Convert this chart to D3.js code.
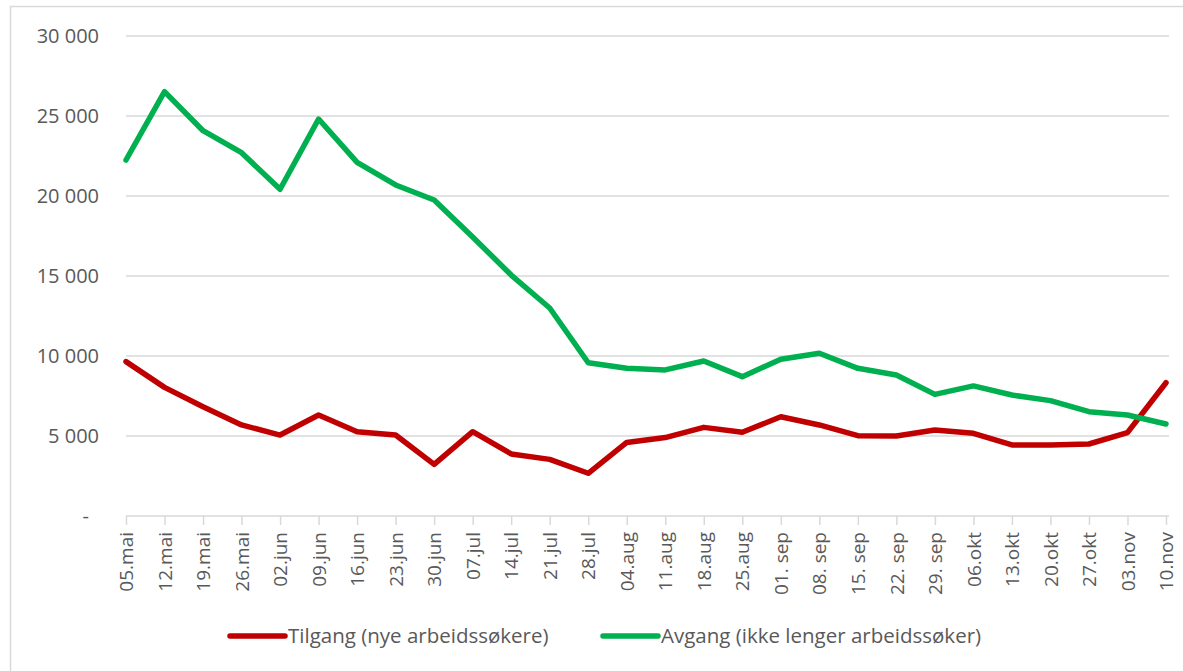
<!DOCTYPE html>
<html>
<head>
<meta charset="utf-8">
<title>Tilgang og avgang</title>
<script src="https://d3js.org/d3.v7.min.js"></script>
<style>
    body { margin: 0; background: #fff; }
    text { font-family: "Open Sans", "Noto Sans", sans-serif; fill: #595959; }
</style>
</head>
<body>
<script>

    // data
    var weeks = ["05.mai", "12.mai", "19.mai", "26.mai", "02.jun", "09.jun", "16.jun", "23.jun",
        "30.jun", "07.jul", "14.jul", "21.jul", "28.jul", "04.aug", "11.aug", "18.aug", "25.aug",
        "01. sep", "08. sep", "15. sep", "22. sep", "29. sep", "06.okt", "13.okt", "20.okt",
        "27.okt", "03.nov", "10.nov"];

    var tilgang = [9650, 8040, 6830, 5690, 5060, 6310, 5270, 5060, 3230, 5270, 3880, 3540,
        2670, 4600, 4900, 5540, 5230, 6200, 5690, 5020, 5000, 5380, 5170, 4440, 4440, 4500,
        5210, 8330];

    var avgang = [22250, 26520, 24080, 22710, 20420, 24810, 22100, 20690, 19750, 17440, 15060,
        13000, 9580, 9230, 9130, 9690, 8710, 9800, 10170, 9230, 8810, 7600, 8130, 7560, 7210,
        6520, 6310, 5750];

    var yTicks = [0, 5000, 10000, 15000, 20000, 25000, 30000];

    var seriesNames = ["Tilgang (nye arbeidssøkere)", "Avgang (ikke lenger arbeidssøker)"];
    var seriesColors = ["#c00000", "#00b050"];

    var width = 1183,
        height = 671;

    var svg = d3.select("body")
        .append("svg")
        .attr("width", width)
        .attr("height", height);

    // chart border
    svg.append("rect")
        .attr("x", 10.5)
        .attr("y", 6.5)
        .attr("width", 1190)
        .attr("height", 700)
        .attr("fill", "none")
        .attr("stroke", "#d9d9d9")
        .attr("stroke-width", 1.5);

    var x = d3.scalePoint()
        .domain(weeks)
        .range([126, 1166]);

    var y = d3.scaleLinear()
        .domain([0, 30000])
        .range([516, 36]);

    // gridlines
    svg.append("g")
        .selectAll("line")
        .data(yTicks.slice(1))
        .enter()
        .append("line")
        .attr("x1", 126)
        .attr("x2", 1169)
        .attr("y1", function (d) { return y(d); })
        .attr("y2", function (d) { return y(d); })
        .attr("stroke", "#d9d9d9")
        .attr("stroke-width", 1.5);

    // y labels
    var fmt = function (d) {
        if (d === 0) return "-";
        return d3.format(",")(d).replace(",", " ");
    };
    svg.append("g")
        .selectAll("text")
        .data(yTicks)
        .enter()
        .append("text")
        .attr("x", function (d) { return d === 0 ? 89 : 99; })
        .attr("y", function (d) { return y(d); })
        .attr("dy", "0.35em")
        .attr("text-anchor", "end")
        .style("font-size", "20px")
        .text(fmt);

    // x axis
    var xAxis = svg.append("g")
        .attr("transform", "translate(0," + y(0) + ")")
        .call(d3.axisBottom(x).tickSize(9).tickSizeOuter(0).tickPadding(0));
    xAxis.select(".domain").attr("stroke", "#d9d9d9").attr("stroke-width", 1.5)
        .attr("d", "M126,0H1169");
    xAxis.selectAll(".tick line").attr("stroke", "#d9d9d9").attr("stroke-width", 1.5);
    xAxis.selectAll(".tick text")
        .attr("transform", "rotate(-90)")
        .attr("x", -16)
        .attr("y", 0)
        .attr("dy", "0.35em")
        .attr("text-anchor", "end")
        .style("font-size", "19px")
        .style("fill", "#595959")
        .style("font-family", "\"Open Sans\", sans-serif");

    // lines
    var line = d3.line()
        .x(function (d, i) { return x(weeks[i]); })
        .y(function (d) { return y(d); });

    [tilgang, avgang].forEach(function (s, i) {
        svg.append("path")
            .datum(s)
            .attr("fill", "none")
            .attr("stroke", seriesColors[i])
            .attr("stroke-width", 5.5)
            .attr("stroke-linejoin", "round")
            .attr("stroke-linecap", "round")
            .attr("d", line);
    });

    // legend
    var legendX = [230, 603];
    var legend = svg.append("g");
    seriesNames.forEach(function (n, i) {
        legend.append("line")
            .attr("x1", legendX[i])
            .attr("x2", legendX[i] + 55)
            .attr("y1", 636)
            .attr("y2", 636)
            .attr("stroke", seriesColors[i])
            .attr("stroke-width", 5.5)
            .attr("stroke-linecap", "round");
        legend.append("text")
            .attr("x", legendX[i] + 58)
            .attr("y", 636)
            .attr("dy", "0.35em")
            .style("font-size", "20.5px")
            .text(n);
    });

</script>
</body>
</html>
